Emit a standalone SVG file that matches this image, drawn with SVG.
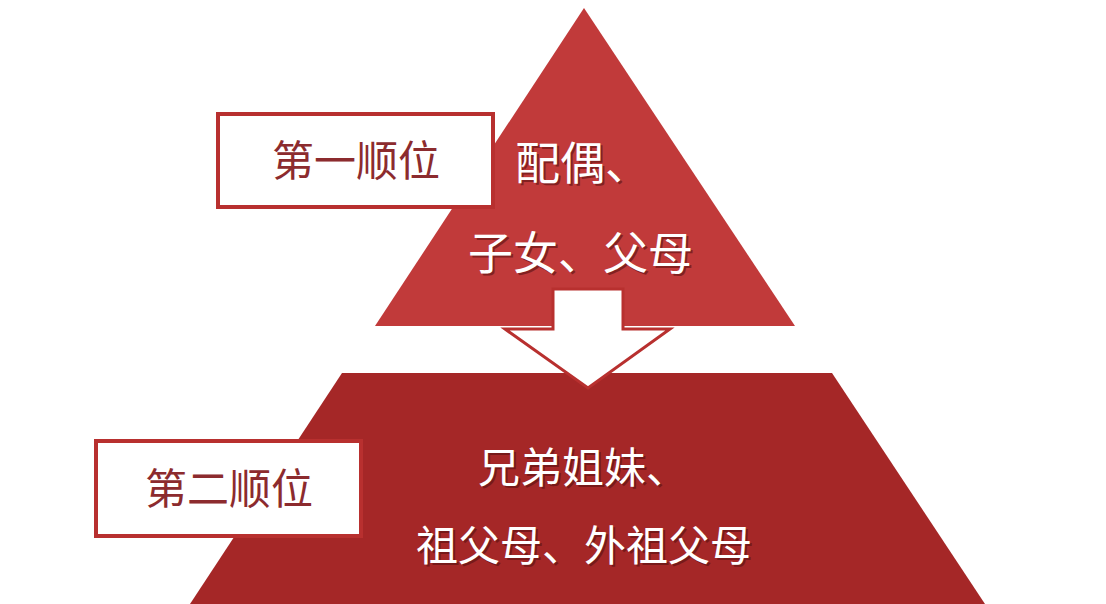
<svg xmlns="http://www.w3.org/2000/svg" width="1106" height="604" viewBox="0 0 1106 604">
<style>
.cjk{font-family:"Noto Sans CJK SC","Noto Sans",sans-serif}
.w{fill:#ffffff}
.sh{fill:#5a1010;opacity:0.6}
.t1{font-size:45px}
.t2{font-size:42px}
.lab{fill:#8c2b2e;font-size:42px}
.box{fill:#ffffff;stroke:#b8302f;stroke-width:4}
</style>
<rect width="1106" height="604" fill="#ffffff"/>
<g id="tier1">
<polygon points="584,8 375,326 795,326" fill="#c13a3a"/>
<text class="cjk sh t1" x="517" y="182">配偶、</text>
<text class="cjk w t1" x="515" y="180">配偶、</text>
<text class="cjk sh t1" x="470" y="272">子女、父母</text>
<text class="cjk w t1" x="468" y="270">子女、父母</text>
</g>
<g id="tier2">
<polygon points="342,373 832,373 985,604 190,604" fill="#a52727"/>
<text class="cjk sh t2" x="480" y="485">兄弟姐妹、</text>
<text class="cjk w t2" x="478" y="483">兄弟姐妹、</text>
<text class="cjk sh t2" x="418" y="563">祖父母、外祖父母</text>
<text class="cjk w t2" x="416" y="561">祖父母、外祖父母</text>
</g>
<g id="label1">
<rect class="box" x="218" y="114" width="275" height="93"/>
<text class="cjk lab" x="356" y="176" text-anchor="middle">第一顺位</text>
</g>
<g id="label2">
<rect class="box" x="96" y="441" width="265" height="95"/>
<text class="cjk lab" x="229" y="504" text-anchor="middle">第二顺位</text>
</g>
<g id="connectors">
<polygon points="553,289 623,289 623,329 670,329 588,388 505,329 553,329" fill="#ffffff" stroke="#b8302f" stroke-width="3" stroke-linejoin="miter"/>
</g>
</svg>
